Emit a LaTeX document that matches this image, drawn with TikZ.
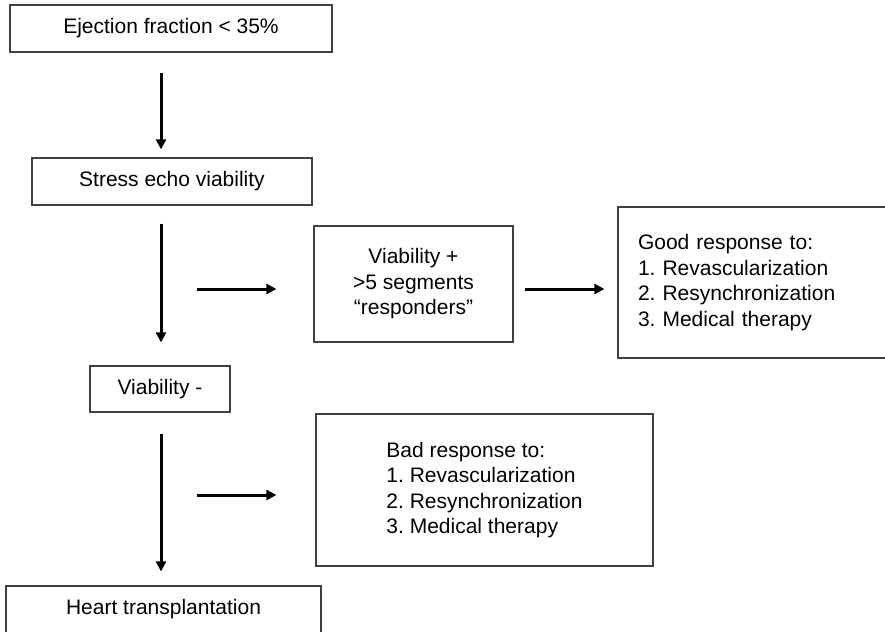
\documentclass[tikz,border=0pt]{standalone}
\usepackage{fontspec}
\setmainfont{Liberation Sans}
\usetikzlibrary{arrows.meta}
\frenchspacing

\begin{document}
\begin{tikzpicture}[x=1pt,y=-1pt,font=\fontsize{21}{25.5}\selectfont,
  box/.style={draw=black!75,line width=1.2pt,inner sep=0pt,align=center},
  arr/.style={-{Triangle[length=10pt,width=10pt]},line width=3pt}]
\useasboundingbox (0,0) rectangle (885,631);
\clip (0,0) rectangle (885,631);
\node[box,minimum width=322pt,minimum height=47pt] (ef) at (171,28.5) {Ejection fraction < 35\%};
\node[box,minimum width=280pt,minimum height=47pt] (stress) at (172,181.5) {Stress echo viability};
\node[box,minimum width=199pt,minimum height=116pt] (resp) at (413.5,284)
  {Viability +\\>5 segments\\“responders”};
\node[box,minimum height=151pt,text width=229pt,inner xsep=20pt,align=left] (good) at (752.5,282.5)
  {Good response to:\\1. Revascularization\\2. Resynchronization\\3. Medical therapy};
\node[box,minimum width=140pt,minimum height=46pt] (neg) at (160,389) {Viability -};
\node[box,minimum width=337pt,minimum height=152pt,align=left] (bad) at (484.5,490)
  {Bad response to:\\1. Revascularization\\2. Resynchronization\\3. Medical therapy};
\node[box,minimum width=315pt,minimum height=47pt] (heart) at (163.5,609.5) {Heart transplantation};
\coordinate (axis) at (161,0);
\coordinate (r1) at (197,289);
\coordinate (r2) at (197,495);
\draw[arr,shorten <=20pt,shorten >=8pt] (ef.south -| axis) -- (stress.north -| axis);
\draw[arr,shorten <=18pt,shorten >=23pt] (stress.south -| axis) -- (neg.north -| axis);
\draw[arr,shorten <=21pt,shorten >=14pt] (neg.south -| axis) -- (heart.north -| axis);
\draw[arr,shorten >=37pt] (r1) -- (r1 -| resp.west);
\draw[arr,shorten <=11pt,shorten >=13pt] (r1 -| resp.east) -- (r1 -| good.west);
\draw[arr,shorten >=39pt] (r2) -- (r2 -| bad.west);
\end{tikzpicture}
\end{document}
